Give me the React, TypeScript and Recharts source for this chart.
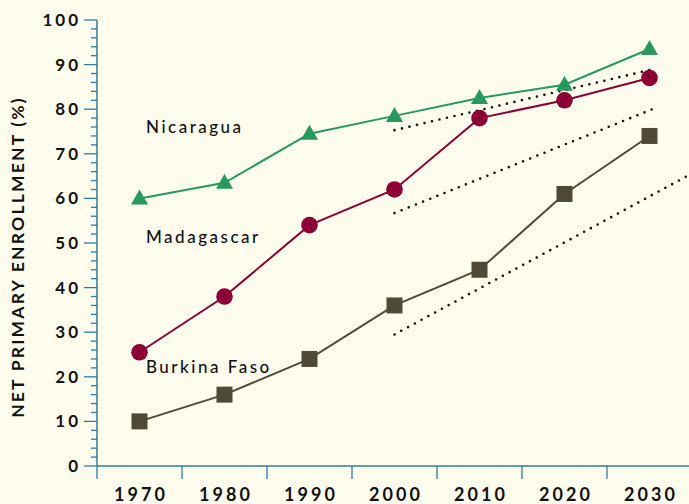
import React from "react";
import { LineChart, Line, XAxis, YAxis } from "recharts";

const years = [1970, 1980, 1990, 2000, 2010, 2020, 2030];
const nicaragua = [60, 63.5, 74.5, 78.5, 82.5, 85.5, 93.5];
const madagascar = [25.5, 38, 54, 62, 78, 82, 87];
const burkinaFaso = [10, 16, 24, 36, 44, 61, 74];

// dotted projection lines (start / end)
const projNicaragua = [
  { year: 2000, v: 75.3 },
  { year: 2030.5, v: 89 },
];
const projMadagascar = [
  { year: 2000, v: 56.7 },
  { year: 2031, v: 80.5 },
];
const projBurkina = [
  { year: 2000, v: 29.5 },
  { year: 2035, v: 65.6 },
];

const yTicks = Array.from({ length: 51 }, (_, i) => i * 2);
const xBoundaries = years.map((y) => y - 5);

const data = years.map((year, i) => ({
  year,
  nicaragua: nicaragua[i],
  madagascar: madagascar[i],
  burkina: burkinaFaso[i],
}));

const AXIS = "#2f7aa3";
const GREEN = "#27995c";
const RED = "#8c0036";
const OLIVE = "#4f4937";
const BG = "#fefded";
const FONT = "Lato, 'DejaVu Sans', sans-serif";

const CHART_W = 700;
const CHART_H = 504;
const PLOT_LEFT = 97;
const PLOT_RIGHT = 8;
const BAND = (CHART_W - PLOT_LEFT - PLOT_RIGHT) / years.length;

const YTick = (props: any) => {
  const { x, y, payload } = props;
  const major = payload.value % 10 === 0;
  return (
    <g>
      <line x1={x - (major ? 13 : 6)} x2={x} y1={y} y2={y} stroke={AXIS} strokeWidth={1.3} />
      {major && (
        <text
          x={x - 16}
          y={y}
          dy={6}
          textAnchor="end"
          fontFamily={FONT}
          fontWeight={700}
          fontSize={17}
          letterSpacing={3}
          fill="#111"
        >
          {payload.value}
        </text>
      )}
    </g>
  );
};

const XTick = (props: any) => {
  const { x, y, index } = props;
  return (
    <text
      x={x + BAND / 2 + 1.5}
      y={y}
      dy={20}
      textAnchor="middle"
      fontFamily={FONT}
      fontWeight={700}
      fontSize={18}
      letterSpacing={3}
      fill="#111"
    >
      {years[index]}
    </text>
  );
};

const Triangle = (props: any) => {
  const { cx, cy, index } = props;
  if (cx == null || cy == null) return <g key={index} />;
  return (
    <polygon
      key={index}
      points={`${cx},${cy - 9} ${cx + 8.5},${cy + 6} ${cx - 8.5},${cy + 6}`}
      fill={GREEN}
    />
  );
};

const Square = (props: any) => {
  const { cx, cy, index } = props;
  if (cx == null || cy == null) return <g key={index} />;
  return <rect key={index} x={cx - 8} y={cy - 8} width={16} height={16} fill={OLIVE} />;
};

const seriesLabel: React.CSSProperties = {
  position: "absolute",
  left: 146,
  fontFamily: FONT,
  fontSize: 17,
  fontWeight: 500,
  letterSpacing: 2.5,
  color: "#111",
  lineHeight: "20px",
};

export default function App() {
  return (
    <div
      style={{
        position: "absolute",
        left: 0,
        top: 0,
        width: 689,
        height: 504,
        overflow: "hidden",
        background: BG,
      }}
    >
      <LineChart
        width={CHART_W}
        height={CHART_H}
        data={data}
        margin={{ top: 20, right: PLOT_RIGHT, left: 0, bottom: 0 }}
      >
        <XAxis
          dataKey="year"
          type="number"
          domain={[1965, 2035]}
          ticks={xBoundaries}
          interval={0}
          allowDataOverflow
          height={38}
          stroke={AXIS}
          tickSize={13}
          tickLine={{ stroke: AXIS, strokeWidth: 1.3 }}
          axisLine={{ stroke: AXIS, strokeWidth: 1.5 }}
          tick={<XTick />}
        />
        <YAxis
          type="number"
          domain={[0, 100]}
          ticks={yTicks}
          interval={0}
          width={PLOT_LEFT}
          tickSize={0}
          tickMargin={0}
          tickLine={false}
          axisLine={{ stroke: AXIS, strokeWidth: 1.5 }}
          tick={<YTick />}
          label={{
            content: () => (
              <text
                x={24}
                y={257}
                transform="rotate(-90 24 257)"
                textAnchor="middle"
                fontFamily={FONT}
                fontWeight={700}
                fontSize={17.5}
                letterSpacing={2.2}
                fill="#111"
              >
                NET PRIMARY ENROLLMENT (%)
              </text>
            ),
          }}
        />
        <Line
          data={projNicaragua}
          dataKey="v"
          stroke="#111"
          strokeWidth={2.6}
          strokeDasharray="0 7.7"
          strokeLinecap="round"
          dot={false}
          isAnimationActive={false}
        />
        <Line
          data={projMadagascar}
          dataKey="v"
          stroke="#111"
          strokeWidth={2.6}
          strokeDasharray="0 7.7"
          strokeLinecap="round"
          dot={false}
          isAnimationActive={false}
        />
        <Line
          data={projBurkina}
          dataKey="v"
          stroke="#111"
          strokeWidth={2.6}
          strokeDasharray="0 7.7"
          strokeLinecap="round"
          dot={false}
          isAnimationActive={false}
        />
        <Line
          dataKey="nicaragua"
          stroke={GREEN}
          strokeWidth={2}
          dot={<Triangle />}
          activeDot={false}
          isAnimationActive={false}
        />
        <Line
          dataKey="madagascar"
          stroke={RED}
          strokeWidth={2}
          dot={{ r: 8.3, fill: RED, stroke: "none" }}
          activeDot={false}
          isAnimationActive={false}
        />
        <Line
          dataKey="burkina"
          stroke={OLIVE}
          strokeWidth={2}
          dot={<Square />}
          activeDot={false}
          isAnimationActive={false}
        />
      </LineChart>
      <div style={{ ...seriesLabel, top: 117 }}>Nicaragua</div>
      <div style={{ ...seriesLabel, top: 227 }}>Madagascar</div>
      <div style={{ ...seriesLabel, top: 357 }}>Burkina Faso</div>
    </div>
  );
}
